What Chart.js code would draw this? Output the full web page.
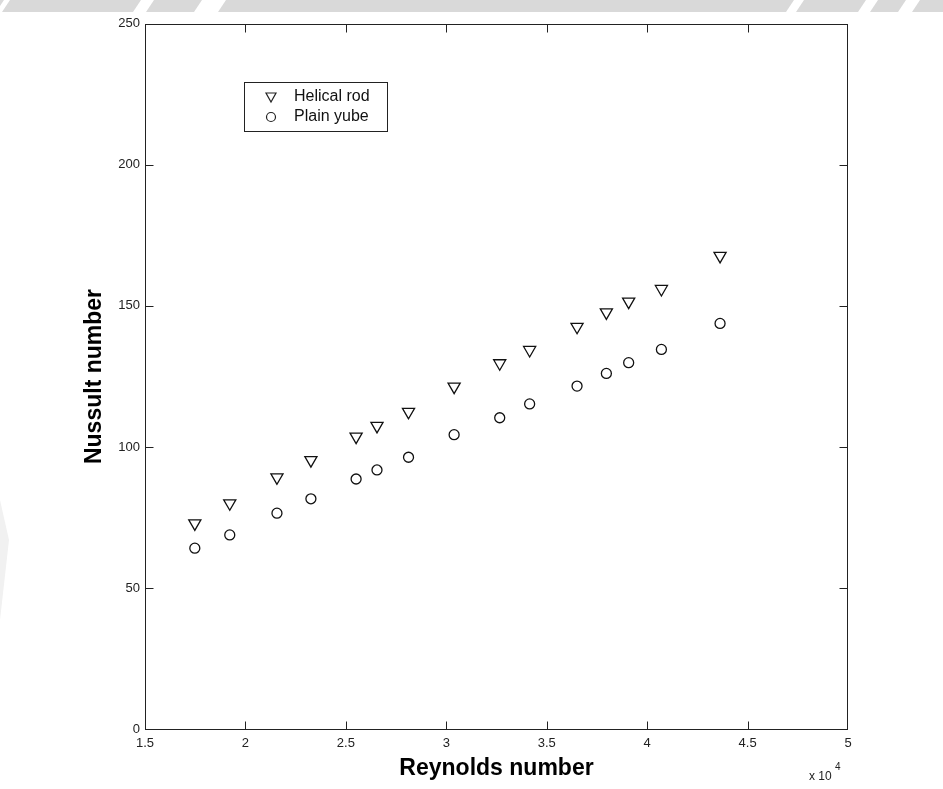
<!DOCTYPE html>
<html lang="en">

<head>
    <meta charset="UTF-8">
    <title>Nusselt vs Reynolds</title>
    <script src="https://cdn.jsdelivr.net/npm/chart.js"></script>
    <style>
        html, body {
            margin: 0;
            padding: 0;
            background: #fff;
        }

        canvas {
            display: block;
        }
    </style>
</head>

<body>
    <canvas id="nuChart" width="943" height="789"></canvas>

    <script>
        // values
        const reynolds = [17480, 19220, 21570, 23260, 25510, 26550, 28120, 30390, 32660, 34150, 36510, 37970, 39080, 40710, 43630];
        const helicalRod = [73.0, 80.1, 89.3, 95.4, 103.7, 107.5, 112.5, 121.4, 129.7, 134.4, 142.6, 147.7, 151.5, 156.0, 167.7];
        const plainTube = [64.2, 68.9, 76.6, 81.7, 88.7, 91.9, 96.4, 104.4, 110.4, 115.3, 121.6, 126.1, 129.9, 134.6, 143.8];
        const seriesNames = ['Helical rod', 'Plain yube'];

        const xTicks = [15000, 20000, 25000, 30000, 35000, 40000, 45000, 50000];
        const yTicks = [0, 50, 100, 150, 200, 250];

        const FONT = '"Liberation Sans", Arial, sans-serif';

        function toPoints(ys) {
            return reynolds.map((x, i) => ({ x: x, y: ys[i] }));
        }

        // light grey watermark bits behind the chart
        const backdrop = {
            id: 'backdrop',
            beforeDraw(chart) {
                const ctx = chart.ctx;
                ctx.save();
                ctx.fillStyle = '#fff';
                ctx.fillRect(0, 0, chart.width, chart.height);
                ctx.fillStyle = '#d9d9d9';
                ctx.fillRect(0, 0, chart.width, 12);
                ctx.fillStyle = '#fff';
                const cuts = [[0, 6], [137, 150], [198, 222], [790, 800], [862, 874], [902, 916]];
                cuts.forEach(([a, b]) => {
                    ctx.beginPath();
                    ctx.moveTo(a + 4, 0);
                    ctx.lineTo(b + 4, 0);
                    ctx.lineTo(b - 4, 12);
                    ctx.lineTo(a - 4, 12);
                    ctx.closePath();
                    ctx.fill();
                });
                ctx.fillStyle = '#f1f1f1';
                ctx.beginPath();
                ctx.moveTo(0, 500);
                ctx.lineTo(9, 540);
                ctx.lineTo(0, 620);
                ctx.closePath();
                ctx.fill();
                ctx.restore();
            }
        };

        // matlab style box with inward ticks, legend box and the x10^4 note
        const frame = {
            id: 'frame',
            afterDatasetsDraw(chart) {
                const ctx = chart.ctx;
                const a = chart.chartArea;
                const xs = chart.scales.x;
                const ys = chart.scales.y;
                const L = Math.round(a.left) + 0.5, R = Math.round(a.right) - 0.5;
                const T = Math.round(a.top) + 0.5, B = Math.round(a.bottom) - 0.5;
                const tick = 8;

                ctx.save();
                ctx.strokeStyle = '#222';
                ctx.lineWidth = 1;
                ctx.strokeRect(L, T, R - L, B - T);

                ctx.beginPath();
                xTicks.slice(1, -1).forEach(v => {
                    const px = Math.round(xs.getPixelForValue(v)) + 0.5;
                    ctx.moveTo(px, B); ctx.lineTo(px, B - tick);
                    ctx.moveTo(px, T); ctx.lineTo(px, T + tick);
                });
                yTicks.slice(1, -1).forEach(v => {
                    const py = Math.round(ys.getPixelForValue(v)) + 0.5;
                    ctx.moveTo(L, py); ctx.lineTo(L + tick, py);
                    ctx.moveTo(R, py); ctx.lineTo(R - tick, py);
                });
                ctx.stroke();

                // legend
                const lx = 244.5, ly = 82.5, lw = 143, lh = 49;
                ctx.fillStyle = '#fff';
                ctx.fillRect(lx, ly, lw, lh);
                ctx.strokeStyle = '#222';
                ctx.strokeRect(lx, ly, lw, lh);

                chart.data.datasets.forEach((ds, i) => {
                    const cy = 97 + i * 20;
                    const cx = 271;
                    ctx.beginPath();
                    if (ds.pointStyle === 'triangle') {
                        ctx.moveTo(cx - 5, cy - 4);
                        ctx.lineTo(cx + 5, cy - 4);
                        ctx.lineTo(cx, cy + 5);
                        ctx.closePath();
                    } else {
                        ctx.arc(cx, cy, 4.5, 0, Math.PI * 2);
                    }
                    ctx.lineWidth = 1.2;
                    ctx.strokeStyle = '#222';
                    ctx.stroke();

                    ctx.fillStyle = '#111';
                    ctx.font = '16px ' + FONT;
                    ctx.textBaseline = 'middle';
                    ctx.textAlign = 'left';
                    ctx.fillText(ds.label, 294, cy);
                });

                // exponent note
                ctx.fillStyle = '#222';
                ctx.textBaseline = 'alphabetic';
                ctx.font = '12px ' + FONT;
                ctx.fillText('x 10', 809, 780);
                ctx.font = '10px ' + FONT;
                ctx.fillText('4', 835, 770);
                ctx.restore();
            }
        };

        new Chart(document.getElementById('nuChart'), {
            type: 'scatter',
            data: {
                datasets: [{
                    label: seriesNames[0],
                    data: toPoints(helicalRod),
                    pointStyle: 'triangle',
                    rotation: 180,
                    radius: 7,
                    borderColor: '#111',
                    borderWidth: 1.3,
                    backgroundColor: 'rgba(0,0,0,0)'
                }, {
                    label: seriesNames[1],
                    data: toPoints(plainTube),
                    pointStyle: 'circle',
                    radius: 5,
                    borderColor: '#111',
                    borderWidth: 1.3,
                    backgroundColor: 'rgba(0,0,0,0)'
                }]
            },
            options: {
                responsive: false,
                devicePixelRatio: 1,
                animation: false,
                layout: { padding: { top: 23.5, right: 95, left: 0, bottom: 0 } },
                plugins: {
                    legend: { display: false },
                    tooltip: { enabled: false }
                },
                scales: {
                    x: {
                        type: 'linear',
                        min: 15000,
                        max: 50000,
                        afterBuildTicks: s => { s.ticks = xTicks.map(v => ({ value: v })); },
                        afterFit: s => { s.height = 59.5; },
                        grid: { display: false, drawTicks: false },
                        border: { display: false },
                        ticks: {
                            padding: 6,
                            color: '#222',
                            font: { family: FONT, size: 13 },
                            callback: v => String(v / 10000)
                        },
                        title: {
                            display: true,
                            text: 'Reynolds number',
                            color: '#000',
                            font: { family: FONT, size: 23, weight: 'bold' },
                            padding: { top: 0, bottom: 7 }
                        }
                    },
                    y: {
                        min: 0,
                        max: 250,
                        afterBuildTicks: s => { s.ticks = yTicks.map(v => ({ value: v })); },
                        afterFit: s => { s.width = 145; },
                        grid: { display: false, drawTicks: false },
                        border: { display: false },
                        ticks: {
                            padding: 5,
                            color: '#222',
                            font: { family: FONT, size: 13 }
                        },
                        title: {
                            display: true,
                            text: 'Nussult number',
                            color: '#000',
                            font: { family: FONT, size: 23, weight: 'bold' },
                            padding: { top: 81, bottom: 0 }
                        }
                    }
                }
            },
            plugins: [backdrop, frame]
        });
    </script>

</body>

</html>
